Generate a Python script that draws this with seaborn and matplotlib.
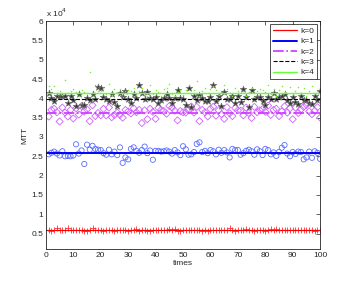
import numpy as np
import pandas as pd
import matplotlib
matplotlib.use("Agg")
import matplotlib.pyplot as plt
import seaborn as sns
from matplotlib.ticker import FuncFormatter

# --- data (x = 1..100) ---
times = list(range(1, 101))

k0 = [5800, 5700, 5900, 6300, 5900, 5800, 6000, 6400, 5900, 5800,
      5900, 5800, 5900, 5600, 5700, 5900, 6500, 5800, 6000, 5900,
      5700, 5800, 5900, 5800, 5700, 6000, 5900, 6000, 5800, 5600,
      5800, 5900, 6200, 5700, 5900, 5800, 5700, 5700, 5900, 6000,
      5900, 5800, 6000, 5900, 6100, 6000, 6200, 5700, 5600, 5800,
      5900, 5800, 5900, 5800, 5800, 5900, 5700, 5800, 5700, 5900,
      5900, 6000, 5800, 5900, 6000, 5800, 6300, 5800, 5700, 6000,
      5800, 5900, 6200, 5800, 5900, 5600, 5800, 5800, 5900, 5700,
      5900, 6100, 6000, 6200, 5800, 5900, 5800, 5900, 6000, 5800,
      5900, 5800, 5900, 5800, 5900, 5800, 6000, 5700, 5800, 5900]

k1 = [25500, 25900, 26200, 25700, 25200, 26300, 25000, 25100, 25000, 25200,
      28100, 25700, 26500, 23000, 28000, 26700, 27700, 26900, 26700, 26600,
      25800, 25400, 26700, 25500, 26200, 25300, 27300, 23300, 24700, 24200,
      26900, 27300, 26400, 25900, 26600, 27500, 25800, 26500, 24100, 26400,
      26400, 26200, 26300, 26500, 26200, 25700, 26600, 26000, 25300, 27600,
      26800, 25400, 25500, 26100, 28200, 28600, 26100, 26400, 25800, 26600,
      26300, 25500, 26700, 25900, 26600, 26000, 24700, 26900, 26600, 26600,
      25400, 25800, 26400, 26700, 26300, 25400, 26800, 26300, 25300, 26900,
      26600, 25500, 26000, 25100, 26100, 27200, 27900, 25700, 25000, 26100,
      25600, 26200, 26100, 24200, 24700, 26200, 24600, 26300, 25900, 24300]

k2 = [35300, 37000, 37300, 36400, 34000, 37600, 36300, 35300, 37000, 34800,
      37400, 35800, 38000, 36600, 37100, 34100, 38200, 35400, 36200, 35600,
      37300, 35600, 37600, 35100, 35700, 36300, 35700, 35000, 37000, 36600,
      36100, 37400, 36400, 37000, 33600, 36900, 34600, 37300, 36500, 34700,
      37500, 37000, 36700, 36000, 38000, 37600, 36800, 34300, 36700, 36400,
      36300, 37100, 37900, 36300, 37800, 34100, 37000, 36400, 35300, 37300,
      37800, 35500, 36900, 35900, 34700, 37700, 36100, 35400, 37500, 36900,
      36800, 35600, 37600, 36200, 34900, 37800, 36400, 36900, 37200, 36500,
      38100, 35700, 37000, 37300, 35400, 36600, 37900, 36300, 37400, 34600,
      37600, 36200, 37100, 37800, 38300, 36600, 35900, 36800, 37700, 35000]

k3 = [41500, 40000, 39200, 40600, 40500, 40700, 40500, 38700, 40600, 39500,
      38000, 41000, 38200, 38200, 40000, 39600, 41200, 39800, 42900, 42800,
      40400, 39900, 39300, 41100, 39100, 38000, 41300, 40300, 42000, 39800,
      38800, 41200, 40100, 43400, 41400, 39700, 41600, 40100, 39800, 40300,
      38900, 39600, 40200, 41100, 40100, 38700, 40000, 42200, 40100, 39800,
      38300, 42800, 37800, 40600, 39500, 40800, 40000, 39200, 39200, 40400,
      43400, 39400, 40600, 38100, 41600, 39800, 39700, 40500, 38900, 40700,
      39100, 42500, 40300, 37700, 42100, 39800, 40300, 40400, 39400, 38200,
      40300, 39700, 41300, 39900, 40300, 40600, 41100, 39600, 38900, 40300,
      39000, 38600, 40700, 39500, 39600, 38800, 38500, 40500, 39500, 41800]

k4 = [43300, 42400, 43200, 41500, 41900, 40800, 44700, 41300, 42000, 42500,
      41700, 40500, 42200, 41600, 41500, 46700, 40600, 43500, 41900, 41800,
      42600, 41000, 43800, 40800, 42300, 41600, 42300, 40400, 41800, 42200,
      41800, 42700, 40900, 41900, 42800, 41500, 40700, 43400, 41200, 42100,
      41700, 40500, 42400, 42600, 43700, 41200, 40700, 41600, 42100, 40900,
      42200, 43400, 41000, 42100, 44600, 40600, 41900, 42800, 41500, 42400,
      43100, 42100, 40800, 41700, 43400, 42300, 41400, 40600, 42700, 41900,
      41300, 42000, 40700, 41700, 42600, 40400, 41900, 42300, 42100, 41600,
      43500, 41100, 42500, 40700, 42200, 43200, 41700, 41400, 42900, 41200,
      42000, 43000, 41300, 42600, 40500, 42000, 43100, 41500, 41900, 42800]

labels = ["k=0", "k=1", "k=2", "k=3", "k=4"]
levels = [5850, 25900, 36200, 39900, 41350]

sns.set_style("white")
plt.rcParams['font.family'] = ['Liberation Sans', 'DejaVu Sans']

fig = plt.figure(figsize=(3.53, 2.81), dpi=100)
ax = fig.add_axes([0.130, 0.114, 0.777, 0.811])

# markers
sns.scatterplot(x=times, y=k0, marker='+', color='#ff3030', s=14, linewidth=0.6, ax=ax)
sns.scatterplot(x=times, y=k1, marker='o', facecolor='none', edgecolor='#5a6cff', s=14, linewidth=0.6, ax=ax)
sns.scatterplot(x=times, y=k2, marker='D', facecolor='none', edgecolor='#d060ff', s=13, linewidth=0.6, ax=ax)
sns.scatterplot(x=times, y=k3, marker='*', color='#303030', edgecolor='#707070', s=24, linewidth=0.5, ax=ax)
sns.scatterplot(x=times, y=k4, marker='.', color='#77ee33', s=5, linewidth=0, ax=ax)

# mean lines
styles = [('#ff0000', '-', 0.9), ('#0000ff', '-', 1.4), ('#cc33ff', '-.', 1.2),
          ('#000000', '--', 0.8), ('#66ff33', '-', 1.0)]
for lab, lvl, (c, ls, lw) in zip(labels, levels, styles):
    ax.axhline(lvl, color=c, linestyle=ls, linewidth=lw, label=lab)

ax.set_xlim(0, 100)
ax.set_ylim(1000, 60000)
ax.set_xticks(range(0, 101, 10))
ax.set_yticks(np.arange(5000, 60001, 5000))
ax.yaxis.set_major_formatter(FuncFormatter(lambda v, p: f"{v / 1e4:g}"))
ax.tick_params(direction='in', length=3, width=0.5, labelsize=6,
               top=True, right=True, pad=2)
for sp in ax.spines.values():
    sp.set_linewidth(0.6)
    sp.set_color('#222222')

ax.set_xlabel("times", fontsize=6, labelpad=1)
ax.set_ylabel("MTT", fontsize=6, labelpad=2)
ax.text(0, 1.008, r"x 10$^4$", transform=ax.transAxes, fontsize=6, va='bottom')

leg = ax.legend(loc='upper right', fontsize=6, frameon=True, fancybox=False,
                handlelength=2.8, borderpad=0.35, labelspacing=0.3,
                handletextpad=0.4, borderaxespad=0.4)
leg.get_frame().set_edgecolor('#000000')
leg.get_frame().set_linewidth(0.6)

fig.savefig("out.png", dpi=100)
